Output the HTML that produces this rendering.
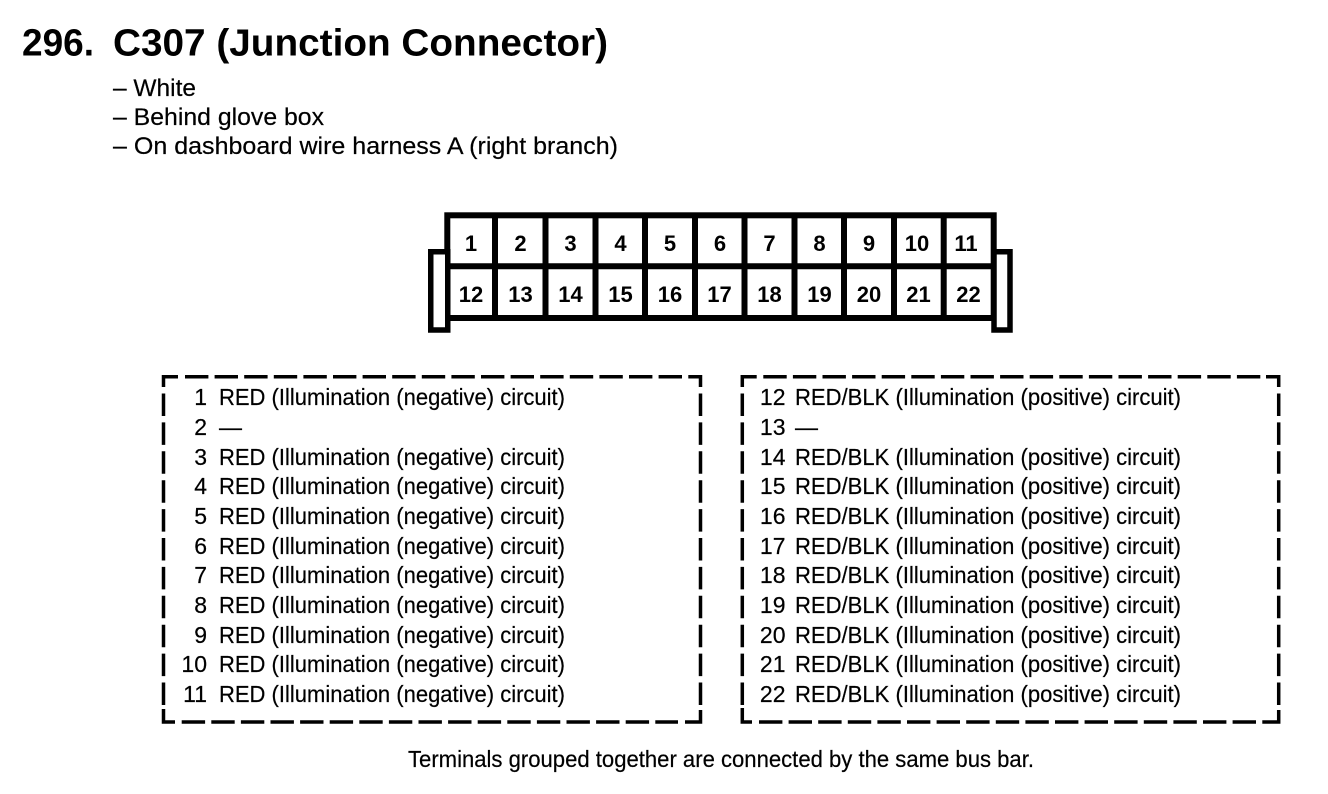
<!DOCTYPE html>
<html><head><meta charset="utf-8">
<style>
html,body{margin:0;padding:0;background:#fff}
svg{display:block}
text{font-family:"Liberation Sans",Arial,sans-serif;fill:#000}
.b{font-size:23px;stroke:#000;stroke-width:.2px}
.h{font-size:24.5px;stroke:#000;stroke-width:.2px}
.p{font-size:22px;font-weight:bold;text-anchor:middle}
.n{font-size:23px;text-anchor:end;stroke:#000;stroke-width:.2px}
</style></head><body>
<svg width="1328" height="794" viewBox="0 0 1328 794" xmlns="http://www.w3.org/2000/svg">
<rect width="1328" height="794" fill="#fff"/>
<text x="22" y="55.5" font-size="38" font-weight="bold" textLength="72" lengthAdjust="spacingAndGlyphs">296.</text>
<text x="113" y="55.5" font-size="38" font-weight="bold" textLength="495" lengthAdjust="spacingAndGlyphs">C307 (Junction Connector)</text>
<text class="h" x="113" y="96" textLength="83" lengthAdjust="spacingAndGlyphs">– White</text>
<text class="h" x="113" y="125" textLength="211" lengthAdjust="spacingAndGlyphs">– Behind glove box</text>
<text class="h" x="113" y="154" textLength="505" lengthAdjust="spacingAndGlyphs">– On dashboard wire harness A (right branch)</text>

<g fill="none" stroke="#000" stroke-width="6">
<rect x="447.300" y="215.300" width="546.400" height="102.700"/>
<path d="M447.500 266.300H994"/>
<path d="M495 215V318M545.500 215V318M595.500 215V318M645 215V318M695 215V318M744.500 215V318M794.500 215V318M844 215V318M894 215V318M943.700 215V318"/>
</g>
<g fill="#fff" stroke="#000" stroke-width="5.500">
<rect x="430.750" y="251.750" width="17" height="78.250"/>
<rect x="994" y="251.750" width="16" height="78.250"/>
</g>
<g>
<text class="p" x="471" y="251">1</text><text class="p" x="520.500" y="251">2</text><text class="p" x="570.500" y="251">3</text><text class="p" x="620.500" y="251">4</text><text class="p" x="670" y="251">5</text><text class="p" x="720" y="251">6</text><text class="p" x="769.500" y="251">7</text><text class="p" x="819.500" y="251">8</text><text class="p" x="869" y="251">9</text><text class="p" x="917" y="251">10</text><text class="p" x="966" y="251">11</text>
<text class="p" x="471" y="302">12</text><text class="p" x="520.500" y="302">13</text><text class="p" x="570.500" y="302">14</text><text class="p" x="620.500" y="302">15</text><text class="p" x="670" y="302">16</text><text class="p" x="719.500" y="302">17</text><text class="p" x="769.500" y="302">18</text><text class="p" x="819.500" y="302">19</text><text class="p" x="869" y="302">20</text><text class="p" x="918.500" y="302">21</text><text class="p" x="968.500" y="302">22</text>
</g>

<g fill="none" stroke="#000" stroke-width="3.500">
<path d="M163.500 387V376.700H178"/>
<path d="M185 376.700H682.700" stroke-dasharray="23.400 6.200"/>
<path d="M688.300 376.700H700.500V387"/>
<path d="M163.500 393.500V705" stroke-dasharray="22.500 6.400"/>
<path d="M700.500 393.500V705" stroke-dasharray="22.500 6.400"/>
<path d="M163.500 709V722H175"/>
<path d="M181.700 722H678" stroke-dasharray="23.400 6.200"/>
<path d="M685 722H700.500V710"/>

<path d="M742.300 387V376.700H756.700"/>
<path d="M763.300 376.700H1260.700" stroke-dasharray="23.400 6.200"/>
<path d="M1266 376.700H1278.700V387"/>
<path d="M742.300 393.500V705" stroke-dasharray="22.500 6.400"/>
<path d="M1278.700 393.500V705" stroke-dasharray="22.500 6.400"/>
<path d="M742.300 708V722H752"/>
<path d="M759 722H1257" stroke-dasharray="23.400 6.200"/>
<path d="M1262.300 722H1278.700V710"/>
</g>

<g>
<text class="n" x="207" y="405">1</text><text class="b" x="219" y="405" textLength="346" lengthAdjust="spacingAndGlyphs">RED (Illumination (negative) circuit)</text>
<text class="n" x="207" y="435">2</text><text class="b" x="219" y="435">—</text>
<text class="n" x="207" y="465">3</text><text class="b" x="219" y="465" textLength="346" lengthAdjust="spacingAndGlyphs">RED (Illumination (negative) circuit)</text>
<text class="n" x="207" y="494">4</text><text class="b" x="219" y="494" textLength="346" lengthAdjust="spacingAndGlyphs">RED (Illumination (negative) circuit)</text>
<text class="n" x="207" y="524">5</text><text class="b" x="219" y="524" textLength="346" lengthAdjust="spacingAndGlyphs">RED (Illumination (negative) circuit)</text>
<text class="n" x="207" y="554">6</text><text class="b" x="219" y="554" textLength="346" lengthAdjust="spacingAndGlyphs">RED (Illumination (negative) circuit)</text>
<text class="n" x="207" y="583">7</text><text class="b" x="219" y="583" textLength="346" lengthAdjust="spacingAndGlyphs">RED (Illumination (negative) circuit)</text>
<text class="n" x="207" y="613">8</text><text class="b" x="219" y="613" textLength="346" lengthAdjust="spacingAndGlyphs">RED (Illumination (negative) circuit)</text>
<text class="n" x="207" y="643">9</text><text class="b" x="219" y="643" textLength="346" lengthAdjust="spacingAndGlyphs">RED (Illumination (negative) circuit)</text>
<text class="n" x="207" y="672">10</text><text class="b" x="219" y="672" textLength="346" lengthAdjust="spacingAndGlyphs">RED (Illumination (negative) circuit)</text>
<text class="n" x="207" y="702">11</text><text class="b" x="219" y="702" textLength="346" lengthAdjust="spacingAndGlyphs">RED (Illumination (negative) circuit)</text>

<text class="n" x="785.500" y="405">12</text><text class="b" x="795" y="405" textLength="386" lengthAdjust="spacingAndGlyphs">RED/BLK (Illumination (positive) circuit)</text>
<text class="n" x="785.500" y="435">13</text><text class="b" x="795" y="435">—</text>
<text class="n" x="785.500" y="465">14</text><text class="b" x="795" y="465" textLength="386" lengthAdjust="spacingAndGlyphs">RED/BLK (Illumination (positive) circuit)</text>
<text class="n" x="785.500" y="494">15</text><text class="b" x="795" y="494" textLength="386" lengthAdjust="spacingAndGlyphs">RED/BLK (Illumination (positive) circuit)</text>
<text class="n" x="785.500" y="524">16</text><text class="b" x="795" y="524" textLength="386" lengthAdjust="spacingAndGlyphs">RED/BLK (Illumination (positive) circuit)</text>
<text class="n" x="785.500" y="554">17</text><text class="b" x="795" y="554" textLength="386" lengthAdjust="spacingAndGlyphs">RED/BLK (Illumination (positive) circuit)</text>
<text class="n" x="785.500" y="583">18</text><text class="b" x="795" y="583" textLength="386" lengthAdjust="spacingAndGlyphs">RED/BLK (Illumination (positive) circuit)</text>
<text class="n" x="785.500" y="613">19</text><text class="b" x="795" y="613" textLength="386" lengthAdjust="spacingAndGlyphs">RED/BLK (Illumination (positive) circuit)</text>
<text class="n" x="785.500" y="643">20</text><text class="b" x="795" y="643" textLength="386" lengthAdjust="spacingAndGlyphs">RED/BLK (Illumination (positive) circuit)</text>
<text class="n" x="785.500" y="672">21</text><text class="b" x="795" y="672" textLength="386" lengthAdjust="spacingAndGlyphs">RED/BLK (Illumination (positive) circuit)</text>
<text class="n" x="785.500" y="702">22</text><text class="b" x="795" y="702" textLength="386" lengthAdjust="spacingAndGlyphs">RED/BLK (Illumination (positive) circuit)</text>
</g>
<text class="b" x="408" y="767" textLength="626" lengthAdjust="spacingAndGlyphs">Terminals grouped together are connected by the same bus bar.</text>
</svg>
</body></html>
